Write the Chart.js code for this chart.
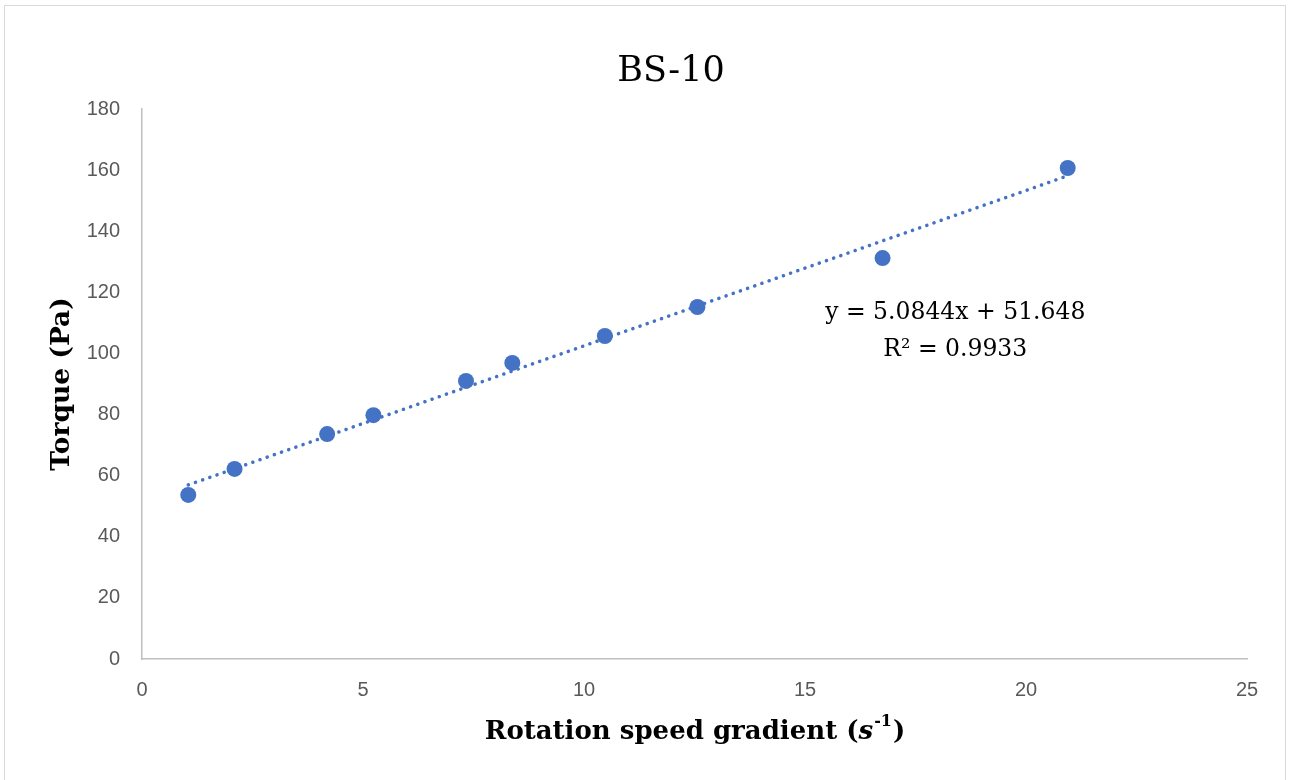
<!DOCTYPE html>
<html><head><meta charset="utf-8">
<script src="https://cdn.jsdelivr.net/npm/chart.js@4"></script>
<style>
html,body{margin:0;padding:0;background:#fff;}
#wrap{position:absolute;left:0;top:0;width:1290px;height:780px;}
#frame{position:absolute;left:4px;top:5px;width:1282px;height:780px;border:1px solid #d9d9d9;box-sizing:border-box;pointer-events:none;}
</style></head>
<body>
<div id="wrap"><canvas id="c" width="1290" height="780"></canvas></div>
<div id="frame"></div>
<script>
const chartTitle = "BS-10";
const xTitle = "Rotation speed gradient (";
const xTitleS = "s";
const xTitleSup = "-1";
const yTitle = "Torque (Pa)";
const gradient = [1.047, 2.094, 4.189, 5.236, 7.330, 8.378, 10.472, 12.566, 16.755, 20.944];
const torque = [53.7, 62.2, 73.6, 79.8, 91.0, 96.9, 105.7, 115.2, 131.2, 160.7];
const trendX = [1.047, 20.944];
const trendY = [56.97, 158.14];
const eqLines = ["y = 5.0844x + 51.648", "R\u00B2 = 0.9933"];
const eqPos = {x: 18.4, y: [113.4, 101.0]};
const xTicks = [0, 5, 10, 15, 20, 25];
const yTicks = [0, 20, 40, 60, 80, 100, 120, 140, 160, 180];

const blue = "#4472C4";
const SERIF = "'DejaVu Serif', 'Liberation Serif', serif";
const textPlugin = {
  id: "texts",
  afterDraw(chart) {
    const ctx = chart.ctx, xs = chart.scales.x, ys = chart.scales.y;
    ctx.save();
    ctx.fillStyle = "#000";
    ctx.textAlign = "center";
    ctx.textBaseline = "middle";
    ctx.font = "35px " + SERIF;
    ctx.fillText(chartTitle, 671, 72);
    // equation
    ctx.font = "23.5px " + SERIF;
    eqLines.forEach((t, i) => {
      ctx.fillText(t, xs.getPixelForValue(eqPos.x), ys.getPixelForValue(eqPos.y[i]));
    });
    // x title
    const bigF = "bold 26px " + SERIF;
    const itF = "italic bold 26px " + SERIF;
    const supF = "bold 16px " + SERIF;
    ctx.font = bigF; const w1 = ctx.measureText(xTitle).width;
    ctx.font = itF; const wS = ctx.measureText(xTitleS).width;
    ctx.font = supF; const w2 = ctx.measureText(xTitleSup).width;
    ctx.font = bigF; const w3 = ctx.measureText(")").width;
    const total = w1 + wS + w2 + w3 + 2;
    let x0 = 695 - total / 2;
    const yb = 732;
    ctx.textAlign = "left";
    ctx.font = bigF; ctx.fillText(xTitle, x0, yb);
    ctx.font = itF; ctx.fillText(xTitleS, x0 + w1, yb);
    ctx.font = supF; ctx.fillText(xTitleSup, x0 + w1 + wS + 1, yb - 10);
    ctx.font = bigF; ctx.fillText(")", x0 + w1 + wS + w2 + 2, yb);
    // y title
    ctx.translate(62, 384);
    ctx.rotate(-Math.PI / 2);
    ctx.textAlign = "center";
    ctx.font = "bold 26.5px " + SERIF;
    ctx.fillText(yTitle, 0, 0);
    ctx.restore();
  }
};

new Chart(document.getElementById("c"), {
  type: "scatter",
  data: {
    datasets: [
      {
        label: "Trend",
        type: "line",
        data: trendX.map((x, i) => ({x, y: trendY[i]})),
        borderColor: blue,
        borderWidth: 3.5,
        borderDash: [0.1, 7.5],
        borderCapStyle: "round",
        pointRadius: 0,
        fill: false
      },
      {
        label: "Torque",
        data: gradient.map((x, i) => ({x, y: torque[i]})),
        backgroundColor: blue,
        borderColor: blue,
        pointRadius: 8,
        pointBorderWidth: 0
      }
    ]
  },
  options: {
    responsive: false,
    animation: false,
    layout: {padding: {left: 0, top: 109, right: 43, bottom: 0}},
    plugins: {legend: {display: false}, tooltip: {enabled: false}, title: {display: false}},
    scales: {
      x: {
        type: "linear", min: 0, max: 25,
        afterFit(s) { s.height = 121; },
        afterBuildTicks(s) { s.ticks = xTicks.map(v => ({value: v})); },
        grid: {display: false, drawTicks: false},
        border: {display: true, color: "#BFBFBF", width: 1.5},
        ticks: {color: "#595959", font: {family: "'Liberation Sans', Arial, sans-serif", size: 20}, padding: 19}
      },
      y: {
        type: "linear", min: 0, max: 180,
        afterFit(s) { s.width = 142; },
        afterBuildTicks(s) { s.ticks = yTicks.map(v => ({value: v})); },
        grid: {display: false, drawTicks: false},
        border: {display: true, color: "#BFBFBF", width: 1.5},
        ticks: {color: "#595959", font: {family: "'Liberation Sans', Arial, sans-serif", size: 20}, padding: 22}
      }
    }
  },
  plugins: [textPlugin]
});
</script>
</body></html>
